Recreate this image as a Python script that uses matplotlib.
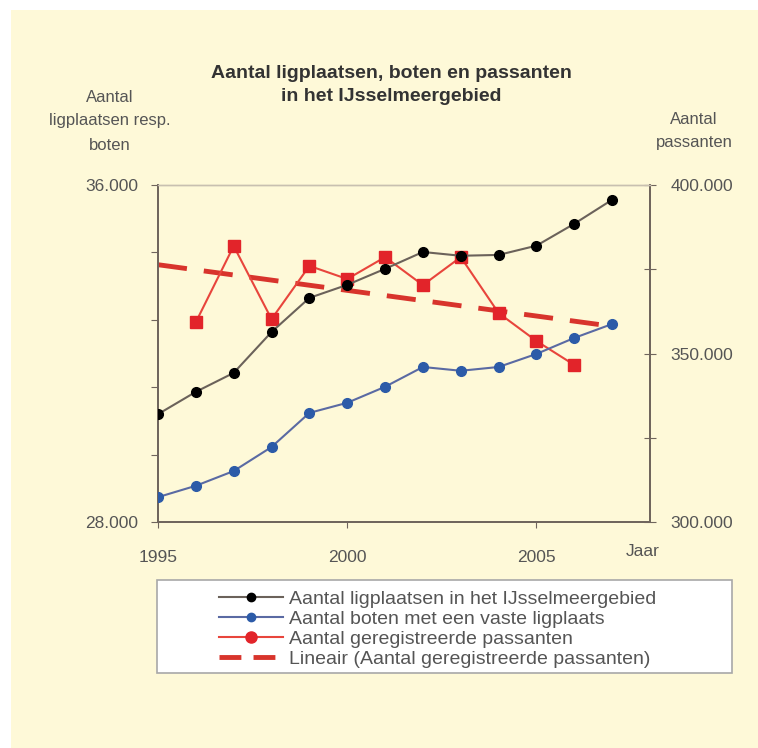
#!/usr/bin/python3

import numpy
import matplotlib
matplotlib.use('Agg')
import matplotlib.pyplot as plt
from matplotlib.patches import Rectangle
from matplotlib.lines import Line2D

years = list(range(1995, 2008))
ligplaatsen = [30560, 31090, 31540, 32510, 33320, 33630, 34010, 34410, 34320, 34340, 34560, 35080, 35650]
boten = [28590, 28860, 29210, 29780, 30590, 30830, 31210, 31680, 31590, 31680, 31990, 32370, 32700]
passant_years = list(range(1996, 2007))
passanten = [359300, 381900, 360200, 376000, 372100, 378600, 370300, 378600, 362000, 353700, 346600]

x_ticks = [1995, 2000, 2005]
left_labels = {28000: '28.000', 36000: '36.000'}
right_labels = {300000: '300.000', 350000: '350.000', 400000: '400.000'}

legend_labels = ['Aantal ligplaatsen in het IJsselmeergebied',
                 'Aantal boten met een vaste ligplaats',
                 'Aantal geregistreerde passanten',
                 'Lineair (Aantal geregistreerde passanten)']

CREAM = '#fef9d8'
TXT = '#555555'
SPINE = '#6f655c'


def main():
    plt.rcParams['font.family'] = ['Liberation Sans', 'DejaVu Sans']

    W, H = 758, 748
    fig = plt.figure(figsize=(W / 100, H / 100), dpi=100)
    fig.patch.set_facecolor('white')
    fig.patches.append(Rectangle((11 / W, 0), 1, 1 - 10 / H, transform=fig.transFigure,
                                 facecolor=CREAM, edgecolor='none', zorder=-10))

    # plot area in pixels: x 158..650, y 185..522
    ax = fig.add_axes([158 / W, 1 - 522 / H, 492 / W, 337 / H])
    ax2 = ax.twinx()

    ax.set_xlim(1995, 2008)
    ax.set_ylim(28000, 36000)
    ax2.set_ylim(300000, 400000)

    # trend line (Excel linear trend, extended one year each side)
    coef = numpy.polyfit(passant_years, passanten, 1)
    trend = numpy.polyval(coef, years)

    ax2.plot(years, trend, color='#d8342c', lw=3.5, dashes=(6, 3.5), zorder=2)
    ax2.plot(passant_years, passanten, color='#e8453c', lw=1.5, marker='s', ms=8,
             mfc='#e2242a', mec='#e2242a', zorder=3)
    ax.plot(years, ligplaatsen, color='#6b625a', lw=1.5, marker='o', ms=7,
            mfc='black', mec='black', zorder=3)
    ax.plot(years, boten, color='#5a6aa3', lw=1.5, marker='o', ms=7,
            mfc='#2c5ba8', mec='#2c5ba8', zorder=3)
    ax.set_zorder(ax2.get_zorder() + 1)
    ax.patch.set_visible(False)
    ax2.patch.set_facecolor(CREAM)

    # axes styling
    lt = numpy.arange(28000, 36001, 1600)
    ax.set_yticks(lt)
    ax.set_yticklabels([left_labels.get(int(v), '') for v in lt])
    rt = numpy.arange(300000, 400001, 25000)
    ax2.set_yticks(rt)
    ax2.set_yticklabels([right_labels.get(int(v), '') for v in rt])
    ax.set_xticks(x_ticks)
    ax.set_xticklabels([str(v) for v in x_ticks])

    for a in (ax, ax2):
        for s in a.spines.values():
            s.set_color(SPINE)
            s.set_linewidth(1.3)
        a.spines['top'].set_color('#c8c0b0')
        a.spines['top'].set_linewidth(1.0)
    ax.tick_params(axis='y', direction='out', length=5, color=SPINE, labelsize=12.5,
                   labelcolor=TXT, pad=9)
    ax.tick_params(axis='x', direction='out', length=4, color=SPINE, labelsize=12.5,
                   labelcolor=TXT, pad=16)
    ax2.tick_params(axis='y', direction='inout', length=8, color=SPINE, labelsize=12.5,
                    labelcolor=TXT, pad=11)

    # texts
    fig.text(391 / W, 1 - 85 / H, 'Aantal ligplaatsen, boten en passanten\nin het IJsselmeergebied',
             ha='center', va='center', fontsize=14, fontweight='bold', color='#333333',
             linespacing=1.45)
    fig.text(110 / W, 1 - 121 / H, 'Aantal\nligplaatsen resp.\nboten', ha='center', va='center',
             fontsize=12, color=TXT, linespacing=1.75)
    fig.text(694 / W, 1 - 131 / H, 'Aantal\npassanten', ha='center', va='center',
             fontsize=12, color=TXT, linespacing=1.75)
    fig.text(643 / W, 1 - 552 / H, 'Jaar', ha='center', va='center', fontsize=12.5, color=TXT)

    # legend box
    fig.patches.append(Rectangle((157 / W, 1 - 673 / H), 575 / W, 93 / H, transform=fig.transFigure,
                                 facecolor='white', edgecolor='#a8a8a8', lw=1.2, zorder=5))
    handles = [
        Line2D([], [], color='#6b625a', lw=1.5, marker='o', ms=6, mfc='black', mec='black'),
        Line2D([], [], color='#5a6aa3', lw=1.5, marker='o', ms=6, mfc='#2c5ba8', mec='#2c5ba8'),
        Line2D([], [], color='#e8453c', lw=1.5, marker='o', ms=8, mfc='#e2242a', mec='#e2242a'),
        Line2D([], [], color='#d8342c', lw=3.5, dashes=(4.5, 2.5)),
    ]
    leg = fig.legend(handles, legend_labels, loc='upper left',
                     bbox_to_anchor=(203 / W, 1 - 575 / H), frameon=False,
                     fontsize=14, handlelength=3.3, handletextpad=0.3,
                     labelspacing=0.12, borderpad=0.3)
    for t in leg.get_texts():
        t.set_color(TXT)
    leg.set_zorder(6)

    fig.savefig('out.png', dpi=100, facecolor=fig.get_facecolor())


if __name__ == "__main__":
    main()
